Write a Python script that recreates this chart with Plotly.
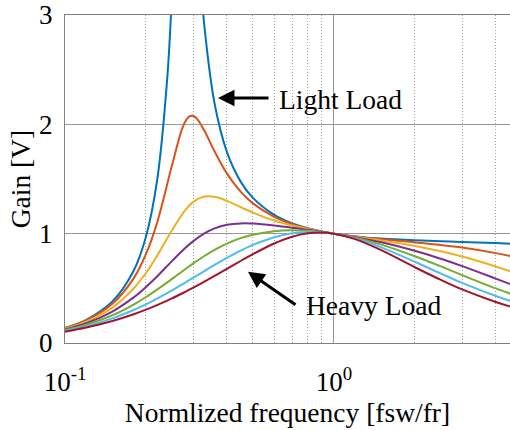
import plotly.graph_objects as go

# Normalized frequency sample points (fsw/fr)
freq = [0.1, 0.12, 0.15, 0.18, 0.2, 0.22, 0.25, 0.28, 0.3, 0.33, 0.36, 0.4, 0.45, 0.5,
        0.6, 0.7, 0.8, 0.9, 1.0, 1.2, 1.5, 2.0, 2.5, 3.0, 4.0, 4.6]

# Light load curve (resonant peak goes off the top of the chart)
freq_blue = [0.1, 0.12, 0.15, 0.18, 0.2, 0.22, 0.24, 0.25, 0.26, 0.28, 0.3, 0.32, 0.33, 0.36,
             0.4, 0.45, 0.5, 0.6, 0.7, 0.8, 0.9, 1.0, 1.2, 1.5, 2.0, 2.5, 3.0, 4.0, 4.6]
gain_blue = [0.138, 0.212, 0.379, 0.661, 0.972, 1.485, 2.421, 3.20, 4.28, 6.03, 4.57, 3.29, 2.894,
             2.190, 1.748, 1.476, 1.327, 1.172, 1.094, 1.049, 1.020, 1.0, 0.975, 0.955, 0.939,
             0.930, 0.924, 0.914, 0.908]

freq_orange = [0.1, 0.12, 0.15, 0.18, 0.2, 0.22, 0.25, 0.27, 0.28, 0.29, 0.3, 0.31, 0.33, 0.36,
               0.4, 0.45, 0.5, 0.6, 0.7, 0.8, 0.9, 1.0, 1.2, 1.5, 2.0, 2.5, 3.0, 4.0, 4.6]
gain_orange = [0.135, 0.206, 0.358, 0.591, 0.812, 1.099, 1.625, 1.929, 2.024, 2.072, 2.077, 2.050,
               1.941, 1.753, 1.551, 1.384, 1.277, 1.154, 1.087, 1.047, 1.019, 1.0, 0.974, 0.949,
               0.921, 0.897, 0.873, 0.822, 0.791]

gain_yellow = [0.131, 0.195, 0.324, 0.499, 0.640, 0.797, 1.031, 1.215, 1.291, 1.340, 1.337, 1.300,
               1.243, 1.193, 1.120, 1.074, 1.042, 1.018, 1.0, 0.971, 0.937, 0.888, 0.839, 0.791,
               0.700, 0.650]
gain_purple = [0.124, 0.181, 0.288, 0.417, 0.512, 0.609, 0.749, 0.868, 0.932, 1.003, 1.048, 1.081,
               1.094, 1.092, 1.075, 1.055, 1.035, 1.017, 1.0, 0.968, 0.921, 0.844, 0.770, 0.703,
               0.589, 0.533]
gain_green = [0.118, 0.167, 0.254, 0.352, 0.420, 0.488, 0.586, 0.675, 0.728, 0.796, 0.852, 0.909,
              0.959, 0.991, 1.023, 1.031, 1.026, 1.015, 1.0, 0.963, 0.900, 0.794, 0.701, 0.621,
              0.499, 0.445]
gain_cyan = [0.110, 0.153, 0.225, 0.302, 0.354, 0.406, 0.481, 0.553, 0.597, 0.658, 0.714, 0.778,
             0.845, 0.897, 0.967, 1.003, 1.016, 1.013, 1.0, 0.957, 0.875, 0.743, 0.635, 0.550,
             0.430, 0.379]
gain_red = [0.103, 0.141, 0.201, 0.263, 0.305, 0.347, 0.408, 0.468, 0.506, 0.561, 0.613, 0.677,
            0.750, 0.813, 0.910, 0.972, 1.003, 1.010, 1.0, 0.950, 0.849, 0.693, 0.577, 0.490,
            0.375, 0.328]

colors = ["#0072BD", "#D95319", "#EDB120", "#7E2F8E", "#77AC30", "#4DBEEE", "#A2142F"]

series = [
    (freq_blue, gain_blue),
    (freq_orange, gain_orange),
    (freq, gain_yellow),
    (freq, gain_purple),
    (freq, gain_green),
    (freq, gain_cyan),
    (freq, gain_red),
]

x_ticks = [0.1, 1]
x_ticktext = ["10<sup>-1</sup>", "10<sup>0</sup>"]
x_minor = [0.2, 0.3, 0.4, 0.5, 0.6, 0.7, 0.8, 0.9, 2, 3, 4]
y_ticks = [0, 1, 2, 3]

FONT = "Liberation Serif, Times New Roman, serif"

fig = go.Figure()
for (xs, ys), c in zip(series, colors):
    fig.add_trace(go.Scatter(x=xs, y=ys, mode="lines",
                             line=dict(color=c, width=2, shape="spline", smoothing=1),
                             showlegend=False, hoverinfo="skip"))

fig.update_layout(
    width=510, height=430,
    margin=dict(l=65, r=0, t=15, b=87),
    paper_bgcolor="white", plot_bgcolor="white",
    font=dict(family=FONT, size=27, color="black"),
    showlegend=False,
)

fig.update_xaxes(
    type="log", range=[-1, 0.655],
    tickvals=x_ticks, ticktext=x_ticktext, ticks="",
    showgrid=True, gridcolor="#999999", gridwidth=1,
    minor=dict(tickvals=x_minor, showgrid=True, griddash="1px,2px",
               gridcolor="#a0a0a0", gridwidth=1, ticks=""),
    showline=True, linecolor="#808080", linewidth=1, mirror=True,
    tickfont=dict(family=FONT, size=27),
    ticklabelstandoff=15,
    title=dict(text="Normlized frequency [fsw/fr]", font=dict(family=FONT, size=27.5), standoff=6),
)
fig.update_yaxes(
    range=[0, 3], tickvals=y_ticks, ticks="",
    showgrid=True, gridcolor="#999999", gridwidth=1,
    showline=True, linecolor="#808080", linewidth=1, mirror=False,
    zeroline=False,
    tickfont=dict(family=FONT, size=27),
    ticklabelstandoff=6,
    title=dict(text="Gain [V]", font=dict(family=FONT, size=27.5), standoff=0),
)

# Arrows (tip in axis coordinates, tail offset in pixels)
fig.add_annotation(x=-0.431, y=2.24, xref="x", yref="y", text="",
                   showarrow=True, ax=52, ay=0, arrowhead=2, arrowsize=1.1,
                   arrowwidth=3, arrowcolor="black", standoff=0)
fig.add_annotation(x=-0.3195, y=0.652, xref="x", yref="y", text="",
                   showarrow=True, ax=49, ay=34, arrowhead=2, arrowsize=1.1,
                   arrowwidth=3, arrowcolor="black", standoff=0)

# Labels
fig.add_annotation(x=0.4764, y=0.742, xref="paper", yref="paper", text="Light Load",
                   showarrow=False, xanchor="left", yanchor="middle",
                   font=dict(family=FONT, size=27.5))
fig.add_annotation(x=0.537, y=0.114, xref="paper", yref="paper", text="Heavy Load",
                   showarrow=False, xanchor="left", yanchor="middle",
                   font=dict(family=FONT, size=27.5))

fig.write_html("out.html")
